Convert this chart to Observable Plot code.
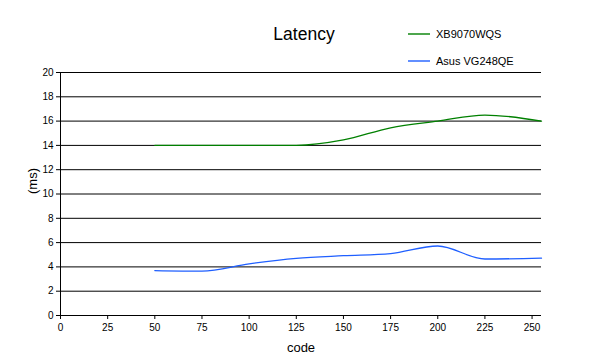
<!DOCTYPE html>
<html><head><meta charset="utf-8">
<script src="https://cdn.jsdelivr.net/npm/d3@7"></script>
<script src="https://cdn.jsdelivr.net/npm/@observablehq/plot@0.6"></script>
<style>
body{margin:0;background:#fff;font-family:"Liberation Sans",Arial,sans-serif;}
#wrap{position:relative;width:600px;height:360px;}
#title{position:absolute;left:0;width:608px;top:24px;text-align:center;font-size:17.5px;color:#000;}
.leg{position:absolute;left:408px;font-size:11px;color:#000;display:flex;align-items:center;}
.leg svg{margin-right:6px;}
</style></head>
<body>
<div id="wrap">
<div id="chart"></div>
<div id="title">Latency</div>
<div id="legend"></div>
</div>
<script>
const codes = [50, 75, 100, 125, 150, 175, 200, 225, 255];
const xb9070 = [14.0, 14.0, 14.0, 14.0, 14.45, 15.45, 16.0, 16.5, 16.0];
const asusVG = [3.7, 3.65, 4.25, 4.7, 4.92, 5.1, 5.72, 4.65, 4.72];
const series = [
  {name: "XB9070WQS", values: xb9070, color: "#008000"},
  {name: "Asus VG248QE", values: asusVG, color: "#1f5fff"}
];
const xTicks = [0, 25, 50, 75, 100, 125, 150, 175, 200, 225, 250];
const yTicks = [0, 2, 4, 6, 8, 10, 12, 14, 16, 18, 20];

const legend = document.getElementById("legend");
series.forEach((s, i) => {
  const d = document.createElement("div");
  d.className = "leg";
  d.style.top = (28 + i * 27) + "px";
  d.innerHTML = `<svg width="22" height="6"><line x1="0" x2="22" y1="3" y2="3" stroke="${s.color}" stroke-width="1.4"/></svg>${s.name}`;
  legend.appendChild(d);
});

const rows = series.flatMap(s => codes.map((c, i) => ({code: c, ms: s.values[i], name: s.name})));

const plot = Plot.plot({
  width: 600, height: 360,
  marginLeft: 60, marginRight: 59, marginTop: 72, marginBottom: 45,
  style: {fontFamily: "Liberation Sans, Arial, sans-serif", fontSize: "10px", color: "#000", background: "#fff"},
  x: {domain: [0, 255], ticks: xTicks, label: null, tickSize: 4, tickPadding: 4},
  y: {domain: [0, 20], ticks: yTicks, label: null, tickSize: 4, tickPadding: 3},
  color: {domain: series.map(s => s.name), range: series.map(s => s.color)},
  marks: [
    Plot.gridY(yTicks.filter(d => d > 0), {stroke: "#000", strokeOpacity: 1, strokeWidth: 1}),
    Plot.lineY(rows, {x: "code", y: "ms", z: "name", stroke: "name", curve: "monotone-x", strokeWidth: 1.3}),
    Plot.axisX({ticks: xTicks, tickSize: 4, tickPadding: 4, label: null, fontSize: 10}),
    Plot.axisY({ticks: yTicks, tickSize: 4, tickPadding: 3, label: null, fontSize: 10}),
    Plot.ruleY([0], {stroke: "#000"}),
    Plot.ruleX([0], {stroke: "#000"}),
    Plot.text(["code"], {frameAnchor: "bottom", dy: 36, fontSize: 13, fill: "#000"}),
    Plot.text(["(ms)"], {frameAnchor: "left", dx: -28, rotate: -90, fontSize: 13, fill: "#000"})
  ]
});
document.getElementById("chart").appendChild(plot);
</script>
</body></html>
